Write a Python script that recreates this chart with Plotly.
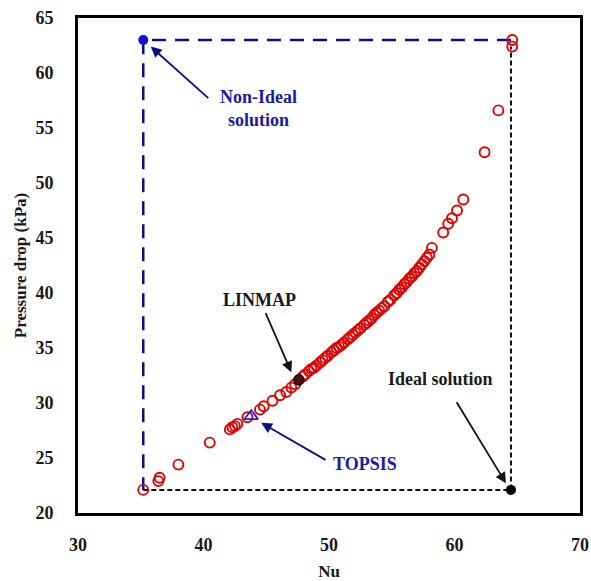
import plotly.graph_objects as go

# Pareto front (Nu, pressure drop in kPa)
pareto_nu = [35.2, 36.4, 36.5, 38.0, 40.5, 42.1, 42.3, 42.5, 42.7, 43.5, 44.5, 44.8,
             45.5, 46.1, 46.6, 47.0, 47.3,
             47.9, 48.1, 48.4, 48.6, 48.8, 49.0, 49.3, 49.5, 49.7, 49.9, 50.2, 50.4,
             50.6, 50.8, 51.0, 51.2, 51.5, 51.7, 51.9, 52.1, 52.3, 52.5, 52.8, 53.0,
             53.2, 53.4, 53.6, 53.8, 54.0, 54.2, 54.4, 54.7, 54.9, 55.2, 55.4, 55.6,
             55.8, 56.0, 56.2, 56.4, 56.6, 56.8, 57.0, 57.2, 57.4, 57.6, 57.8, 58.0,
             58.2, 59.1, 59.5, 59.8, 60.2, 60.7, 62.4, 63.5, 64.6, 64.6]
pareto_dp = [22.1, 22.9, 23.2, 24.4, 26.4, 27.6, 27.8, 27.9, 28.1, 28.7, 29.4, 29.7,
             30.2, 30.7, 31.0, 31.4, 31.7,
             32.4, 32.6, 32.9, 33.1, 33.2, 33.4, 33.7, 33.9, 34.1, 34.3, 34.6, 34.8,
             35.0, 35.1, 35.3, 35.5, 35.8, 36.0, 36.2, 36.4, 36.6, 36.8, 37.1, 37.3,
             37.5, 37.7, 38.0, 38.2, 38.4, 38.6, 38.8, 39.2, 39.4, 39.8, 40.0, 40.3,
             40.5, 40.8, 41.0, 41.3, 41.5, 41.8, 42.0, 42.3, 42.6, 42.9, 43.2, 43.5,
             44.1, 45.5, 46.3, 46.8, 47.5, 48.5, 52.8, 56.6, 62.4, 63.0]

linmap = (47.6, 32.1)
topsis = (43.8, 28.8)
non_ideal = (35.2, 63.0)
ideal = (64.5, 22.1)

serif = "Liberation Serif"
blue_txt = "#1a1aa6"
navy = "#0d0d85"
txt_col = "#1a1a1a"

fig = go.Figure()

# Blue dashed lines from non-ideal point
fig.add_trace(go.Scatter(x=[ideal[0], non_ideal[0], non_ideal[0]],
                         y=[non_ideal[1], non_ideal[1], ideal[1]],
                         mode="lines", line=dict(color=navy, width=2.5, dash="14px,9px"),
                         hoverinfo="skip", showlegend=False))
# Black dashed lines to ideal point
fig.add_trace(go.Scatter(x=[non_ideal[0], ideal[0], ideal[0]],
                         y=[ideal[1], ideal[1], pareto_dp[-2]],
                         mode="lines", line=dict(color="#111111", width=2, dash="5px,3px"),
                         hoverinfo="skip", showlegend=False))

fig.add_trace(go.Scatter(x=pareto_nu, y=pareto_dp, mode="markers",
                         marker=dict(symbol="circle-open", size=10, color="#e00000",
                                     line=dict(width=1.9, color="#e00000")),
                         showlegend=False))
fig.add_trace(go.Scatter(x=[linmap[0]], y=[linmap[1]], mode="markers",
                         marker=dict(symbol="circle", size=10, color="#5a0a0a",
                                     line=dict(width=1.6, color="#111111")),
                         showlegend=False))
fig.add_trace(go.Scatter(x=[topsis[0]], y=[topsis[1]], mode="markers",
                         marker=dict(symbol="triangle-up-open", size=12, color="#2020d0",
                                     line=dict(width=1.8, color="#2020d0")),
                         showlegend=False))
fig.add_trace(go.Scatter(x=[non_ideal[0]], y=[non_ideal[1]], mode="markers",
                         marker=dict(symbol="circle", size=10, color="#1010d0"),
                         showlegend=False))
fig.add_trace(go.Scatter(x=[ideal[0]], y=[ideal[1]], mode="markers",
                         marker=dict(symbol="circle", size=10, color="#000000"),
                         showlegend=False))

# Labels
labels = [
    ("Non-Ideal<br>solution", 44.35, 56.8, blue_txt),
    ("LINMAP", 44.5, 39.35, txt_col),
    ("TOPSIS", 52.9, 24.5, blue_txt),
    ("Ideal solution", 58.9, 32.2, txt_col),
]
for txt, x, y, c in labels:
    fig.add_annotation(x=x, y=y, text=txt, showarrow=False,
                       font=dict(family=serif, size=18, color=c, weight="bold"))

arrows = [
    (40.5, 57.6, 35.8, 62.4, navy),
    (44.9, 38.3, 47.0, 32.8, "#111111"),
    (49.84, 24.75, 44.6, 28.2, navy),
    (60.1, 30.2, 64.1, 22.7, "#111111"),
]
for tx, ty, hx, hy, c in arrows:
    fig.add_annotation(x=hx, y=hy, ax=tx, ay=ty, axref="x", ayref="y",
                       xref="x", yref="y", text="", showarrow=True,
                       arrowhead=2, arrowsize=1.2, arrowwidth=1.8, arrowcolor=c)

axis_common = dict(showgrid=False, zeroline=False, showline=True, mirror=True,
                   linecolor="black", linewidth=3, ticks="", automargin=False,
                   tickfont=dict(family=serif, size=18, color=txt_col, weight="bold"))

fig.update_xaxes(range=[30, 70], dtick=10, tick0=30, ticklabelstandoff=13,
                 title=dict(text="Nu", standoff=21,
                            font=dict(family=serif, size=17, color=txt_col, weight="bold")),
                 **axis_common)
fig.update_yaxes(range=[20, 65], dtick=5, tick0=20, ticklabelstandoff=18,
                 title=dict(text="Pressure drop (kPa)", standoff=5,
                            font=dict(family=serif, size=17, color=txt_col, weight="bold")),
                 **axis_common)

fig.update_layout(width=591, height=581, margin=dict(l=78, r=11, t=18, b=68),
                  plot_bgcolor="white", paper_bgcolor="white")

fig.write_html("out.html")
